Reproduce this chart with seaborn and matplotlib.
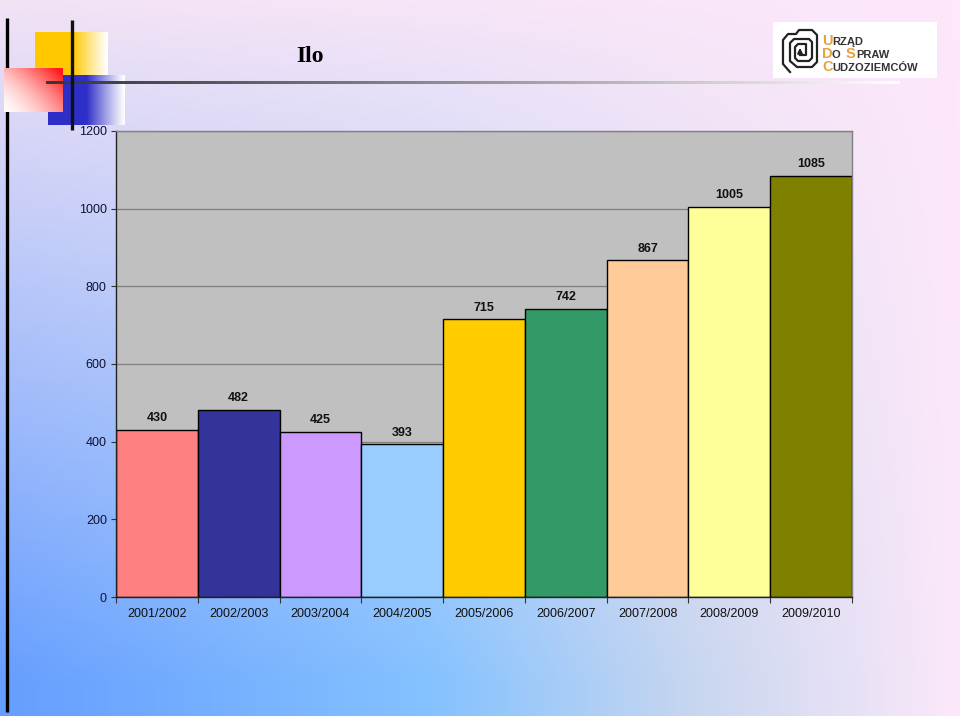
import numpy as np
import pandas as pd
import matplotlib
matplotlib.use("Agg")
import matplotlib.pyplot as plt
import seaborn as sns

seasons = ["2001/2002", "2002/2003", "2003/2004", "2004/2005", "2005/2006",
           "2006/2007", "2007/2008", "2008/2009", "2009/2010"]
counts = [430, 482, 425, 393, 715, 742, 867, 1005, 1085]
bar_colors = ["#FF8080", "#333399", "#CC99FF", "#99CCFF", "#FFCC00",
              "#339966", "#FFCC99", "#FFFF99", "#808000"]
y_ticks = [0, 200, 400, 600, 800, 1000, 1200]
title_text = "Ilo"

plt.rcParams['font.family'] = ['Liberation Sans', 'DejaVu Sans']

W, H = 960, 716
fig = plt.figure(figsize=(W / 100, H / 100), dpi=100)

# ---------- background gradient ----------
bg = fig.add_axes([0, 0, 1, 1], zorder=0)

def interp_stops(t, stops):
    pos = np.array([s[0] for s in stops])
    cols = np.array([s[1] for s in stops])
    return np.stack([np.interp(t.ravel(), pos, cols[:, i]) for i in range(3)], axis=-1)

bottom_row = interp_stops(np.linspace(0, 1, W), [
    (0.0, (0.40, 0.62, 1.00)),
    (0.45, (0.52, 0.76, 1.00)),
    (0.72, (0.78, 0.84, 0.94)),
    (1.0, (0.99, 0.91, 0.98)),
])[None, :, :]
top_row = interp_stops(np.linspace(0, 1, W), [
    (0.0, (0.95, 0.89, 0.96)),
    (1.0, (0.99, 0.91, 0.98)),
])[None, :, :]
t = np.clip(np.linspace(0, 1, H) * 1.05, 0, 1)[:, None, None]
img = top_row * (1 - t) + bottom_row * t
bg.imshow(img, extent=[0, W, H, 0], aspect='auto', interpolation='bilinear')
bg.set_xlim(0, W)
bg.set_ylim(H, 0)
bg.axis('off')

# ---------- main chart ----------
ax = fig.add_axes([116 / W, 1 - 597 / H, 736 / W, 466 / H], zorder=1)
df = pd.DataFrame({"season": seasons, "count": counts})
sns.barplot(data=df, x="season", y="count", hue="season", palette=bar_colors,
            width=1.0, edgecolor="black", linewidth=1.0, saturation=1,
            legend=False, ax=ax)
ax.set_facecolor("#C0C0C0")
ax.set_xlim(-0.5, len(seasons) - 0.5)
ax.set_ylim(0, 1200)
ax.set_yticks(y_ticks)
ax.set_yticklabels([str(v) for v in y_ticks], fontsize=9, color="#111133")
ax.yaxis.grid(True, color="#808080", linewidth=0.9)
ax.xaxis.grid(False)
ax.set_axisbelow(True)
ax.set_xlabel("")
ax.set_ylabel("")
ax.tick_params(axis='y', length=3.6, width=0.8, pad=3, color="#333333")
ax.tick_params(axis='x', which='major', length=0, pad=8, labelsize=9, labelcolor="#111111")
ax.set_xticks(np.arange(-0.5, len(seasons)), minor=True)
ax.tick_params(axis='x', which='minor', length=4, width=0.8, color="#333333")
for s in ["left", "bottom"]:
    ax.spines[s].set_color("#222222")
    ax.spines[s].set_linewidth(1.0)
for s in ["top", "right"]:
    ax.spines[s].set_color("#808080")
    ax.spines[s].set_linewidth(1.0)
for cont in ax.containers:
    ax.bar_label(cont, padding=4, fontsize=9, fontweight='bold', color="#111111")

# ---------- decorations ----------
de = fig.add_axes([0, 0, 1, 1], zorder=2)
de.set_xlim(0, W)
de.set_ylim(H, 0)
de.axis('off')
de.patch.set_alpha(0)

def grad_block(x0, x1, y0, y1, color, solid_frac, ax_, z):
    n = 120
    xn = np.linspace(0, 1, n)
    f = np.where(xn < solid_frac, 1.0,
                 np.clip(1 - (xn - solid_frac) / (1 - solid_frac), 0, 1) ** 1.1)
    c = np.array(matplotlib.colors.to_rgb(color))
    row = f[:, None] * c[None, :] + (1 - f[:, None]) * np.array([1, 1, 1])[None, :]
    im = np.repeat(row[None, :, :], 10, axis=0)
    ax_.imshow(im, extent=[x0, x1, y1, y0], aspect='auto', interpolation='bilinear', zorder=z)

# left black line
de.plot([7, 7], [18, 712], color="black", lw=2.4, solid_capstyle='butt', zorder=1)
# yellow block
grad_block(35, 108, 32, 76, "#FFC800", 0.52, de, 2)
# blue block
grad_block(48, 125, 75, 125, "#2E2EC8", 0.5, de, 3)
# red block (fades toward left and bottom)
nx, ny = 80, 60
xn = np.linspace(0, 1, nx)[None, :]
yn = np.linspace(0, 1, ny)[:, None]
f = np.clip(0.62 * xn ** 1.1 + 0.45 * (1 - yn) ** 1.2, 0, 1) ** 1.4
red = np.array(matplotlib.colors.to_rgb("#FF1A1A"))
rimg = f[:, :, None] * red + (1 - f[:, :, None]) * np.array([1.0, 0.98, 0.98])
de.imshow(rimg, extent=[4, 63, 112, 68], aspect='auto', interpolation='bilinear', zorder=4)
# horizontal line fading to white
hl = np.linspace(0, 1, 200)
hcol = np.stack([0.22 + 0.78 * hl ** 1.1] * 3, axis=-1)[None, :, :]
de.imshow(np.repeat(hcol, 3, axis=0), extent=[46, 900, 84, 81], aspect='auto',
          interpolation='bilinear', zorder=5)
# vertical black line
de.plot([72, 72], [20, 130], color="#111111", lw=2.4, solid_capstyle='butt', zorder=6)

# title
fig.text(310 / W, 1 - 56 / H, title_text, family=['Liberation Serif', 'DejaVu Serif'],
         fontsize=17, fontweight='bold', ha='center', va='center', color='black')

# logo
de.add_patch(matplotlib.patches.Rectangle((773, 22), 164, 56, facecolor='white',
                                          edgecolor='none', zorder=7))
outer_x = [790, 783, 783, 788, 796, 799, 812, 817, 817, 812, 797, 790, 790, 794, 809, 812,
           812, 809, 798, 795, 795, 798, 806, 806, 800]
outer_y = [72, 64, 40, 34, 34, 30, 30, 35, 62, 67, 67, 61, 43, 39, 39, 42,
           58, 61, 61, 58, 47, 44, 44, 55, 55]
de.plot(outer_x, outer_y, color="#222222", lw=1.6, zorder=8, solid_joinstyle='round')
de.annotate("", xy=(800, 45), xytext=(800, 55),
            arrowprops=dict(arrowstyle='-|>', color="#222222", lw=1.4, mutation_scale=7), zorder=8)
orange = "#E8A040"
dark = "#333333"
fs_big, fs_small = 10.5, 8
de.text(822, 41, "U", color=orange, fontsize=fs_big, fontweight='bold', va='center', zorder=9)
de.text(832, 42, "RZĄD", color=dark, fontsize=fs_small, fontweight='bold', va='center', zorder=9)
de.text(822, 54, "D", color=orange, fontsize=fs_big, fontweight='bold', va='center', zorder=9)
de.text(832, 55, "O", color=dark, fontsize=fs_small, fontweight='bold', va='center', zorder=9)
de.text(846, 54, "S", color=orange, fontsize=fs_big, fontweight='bold', va='center', zorder=9)
de.text(856, 55, "PRAW", color=dark, fontsize=fs_small, fontweight='bold', va='center', zorder=9)
de.text(822, 67, "C", color=orange, fontsize=fs_big, fontweight='bold', va='center', zorder=9)
de.text(832, 68, "UDZOZIEMCÓW", color=dark, fontsize=fs_small, fontweight='bold', va='center', zorder=9)

fig.savefig("out.png", dpi=100)
